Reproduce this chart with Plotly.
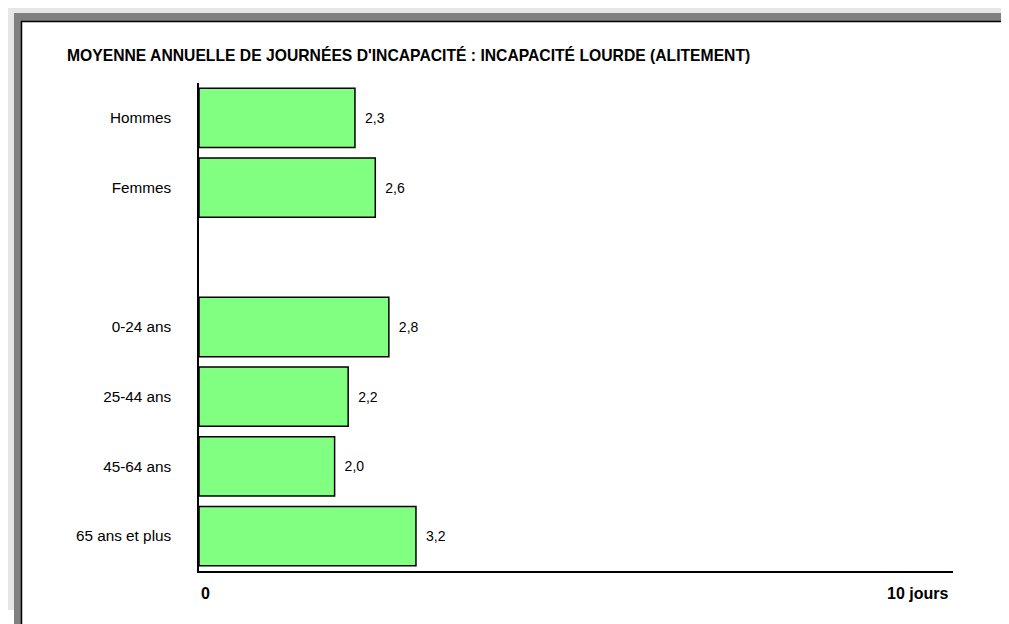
import plotly.graph_objects as go

# data
categories = ["Hommes", "Femmes", " ", "0-24 ans", "25-44 ans", "45-64 ans", "65 ans et plus"]
values = [2.3, 2.6, None, 2.8, 2.2, 2.0, 3.2]
x_max = 11.12
title_text = "MOYENNE ANNUELLE DE JOURNÉES D'INCAPACITÉ : INCAPACITÉ LOURDE (ALITEMENT)"
axis_labels = ["0", "10 jours"]

# page offset (body margin) so positions below are given in page pixels
OFF = 8
W, H = 1009, 624
L, T = 199 - OFF, 83 - OFF
R, B = W - (953 - OFF), H - (571 - OFF)
pw, ph = W - L - R, H - T - B


def px(x):
    return (x - OFF - L) / pw


def py(y):
    return (H - B - (y - OFF)) / ph


FONT = "Liberation Sans, Arial"

fig = go.Figure()

fig.add_trace(go.Bar(
    x=values,
    y=categories,
    orientation="h",
    width=0.85,
    marker=dict(color="#80FF80", line=dict(color="black", width=1.5)),
    texttemplate="\u2002%{x:.1f}",
    textposition="outside",
    textfont=dict(family=FONT, size=14, color="black"),
    cliponaxis=False,
    hoverinfo="skip",
))

# frame decoration: light gray shadow, dark gray band, white panel with black edge
fig.add_shape(type="rect", xref="paper", yref="paper",
              x0=px(0), x1=px(1001), y0=py(610), y1=py(5),
              fillcolor="#e6e6e6", line_width=0, layer="below")
fig.add_shape(type="rect", xref="paper", yref="paper",
              x0=px(14), x1=px(1020), y0=py(640), y1=py(13),
              fillcolor="#808080", line_width=0, layer="below")
fig.add_shape(type="rect", xref="paper", yref="paper",
              x0=px(21.5), x1=px(1025), y0=py(645), y1=py(21.5),
              fillcolor="white", line=dict(color="black", width=1.5), layer="below")

fig.add_annotation(
    text="<b>" + title_text + "</b>",
    xref="paper", yref="paper", x=px(65), y=py(55),
    xanchor="left", yanchor="middle", showarrow=False,
    font=dict(family=FONT, size=15.7, color="black"),
)

# axis end labels
fig.add_annotation(text="<b>" + axis_labels[0] + "</b>", x=0, y=py(593), xref="x", yref="paper",
                   xanchor="left", yanchor="middle", showarrow=False, xshift=0,
                   font=dict(family=FONT, size=16, color="black"))
fig.add_annotation(text="<b>" + axis_labels[1] + "</b>", x=x_max, y=py(593), xref="x", yref="paper",
                   xanchor="right", yanchor="middle", showarrow=False, xshift=-3,
                   font=dict(family=FONT, size=16, color="black"))

fig.update_xaxes(
    range=[0, x_max],
    showgrid=False, zeroline=False, showticklabels=False, ticks="",
    showline=True, linecolor="black", linewidth=2,
)
fig.update_yaxes(
    categoryorder="array", categoryarray=categories[::-1],
    showgrid=False, zeroline=False, ticks="",
    showline=True, linecolor="black", linewidth=1.5,
    ticklabelstandoff=23,
    tickfont=dict(family=FONT, size=15.3, color="black"),
)

fig.update_layout(
    width=W, height=H, autosize=False,
    margin=dict(l=L, r=R, t=T, b=B),
    paper_bgcolor="white",
    plot_bgcolor="rgba(0,0,0,0)",
    separators=", ",
    showlegend=False,
    bargap=0.15,
)

fig.write_html("out.html")
